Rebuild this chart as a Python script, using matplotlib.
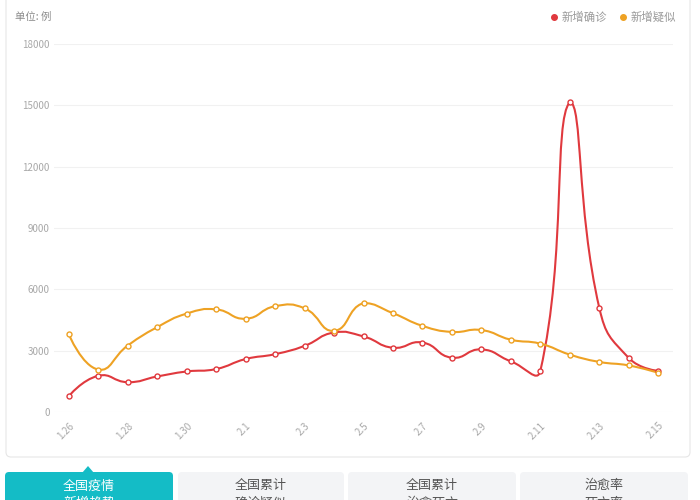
import numpy as np
import matplotlib
matplotlib.use('Agg')
import matplotlib.pyplot as plt
from matplotlib.path import Path
from matplotlib.patches import PathPatch, FancyBboxPatch, Polygon
from matplotlib.lines import Line2D
from matplotlib.transforms import Affine2D

plt.rcParams['font.family'] = ['Noto Sans CJK SC', 'DejaVu Sans']

# ---------------- data ----------------
dates = ['1.26', '1.27', '1.28', '1.29', '1.30', '1.31', '2.1', '2.2', '2.3', '2.4',
         '2.5', '2.6', '2.7', '2.8', '2.9', '2.10', '2.11', '2.12', '2.13', '2.14', '2.15']
confirmed = [769, 1771, 1459, 1737, 1982, 2102, 2590, 2829, 3235, 3887,
             3694, 3143, 3399, 2656, 3062, 2478, 2015, 15152, 5090, 2641, 2009]
suspected = [3806, 2077, 3248, 4148, 4812, 5019, 4562, 5173, 5072, 3971,
             5328, 4833, 4214, 3916, 4008, 3536, 3342, 2807, 2450, 2277, 1918]
series_names = ['新增确诊', '新增疑似']
y_ticks = [0, 3000, 6000, 9000, 12000, 15000, 18000]
unit_label = '单位: 例'
tab_titles = [('全国疫情', '新增趋势'), ('全国累计', '确诊疑似'),
              ('全国累计', '治愈死亡'), ('治愈率', '死亡率')]

RED = '#e0393e'
ORANGE = '#eea224'
TEAL = '#14bcc6'

W, H = 700, 500
fig = plt.figure(figsize=(7, 5), dpi=100)
fig.patch.set_facecolor('white')
# pixel transform, origin top-left
T = Affine2D().scale(1 / 100, -1 / 100).translate(0, 5) + fig.dpi_scale_trans

# card
card = FancyBboxPatch((6, -20), 684, 477, boxstyle='round,pad=0,rounding_size=5',
                      transform=T, fc='white', ec='#e6e6e6', lw=0.8, zorder=0)
fig.add_artist(card)

# axes
ax = fig.add_axes([54 / W, 1 - 412 / H, (673 - 54) / W, (412 - 44) / H])
ax.set_facecolor('none')
ax.set_xlim(-0.5, len(dates) - 0.5)
ax.set_ylim(y_ticks[0], y_ticks[-1])
for s in ax.spines.values():
    s.set_visible(False)
ax.set_yticks(y_ticks)
ax.set_yticklabels([str(v) for v in y_ticks], fontsize=7, color='#a8a8a8')
ax.yaxis.grid(True, color='#f1f1f1', lw=0.8)
ax.set_axisbelow(True)
xi = np.arange(len(dates))
ax.set_xticks(xi[::2])
ax.set_xticklabels(dates[::2], fontsize=7, color='#a8a8a8', rotation=45,
                   ha='right', va='top', rotation_mode='anchor')
ax.tick_params(axis='both', length=0)
ax.tick_params(axis='y', pad=3)
ax.tick_params(axis='x', pad=6)


def smooth_path(xs, ys, smooth=0.5):
    pts = ax.transData.transform(np.column_stack([xs, ys]).astype(float))
    mn = pts.min(axis=0)
    mx = pts.max(axis=0)
    n = len(pts)
    verts = [pts[0]]
    codes = [Path.MOVETO]
    cp0 = pts[0].copy()
    for i in range(1, n):
        p = pts[i]
        prev = pts[i - 1]
        if i == n - 1:
            cp1 = p.copy()
            v = np.zeros(2)
            ratio = 0.5
        else:
            nxt = pts[i + 1]
            v = nxt - prev
            d0 = np.hypot(*(p - prev))
            d1 = np.hypot(*(nxt - p))
            ratio = d1 / (d0 + d1)
            cp1 = p - v * smooth * (1 - ratio)
        cp0c = np.clip(cp0, mn, mx)
        cp1c = np.clip(cp1, mn, mx)
        verts += [cp0c, cp1c, p]
        codes += [Path.CURVE4] * 3
        cp0 = p + v * smooth * ratio
    verts = ax.transData.inverted().transform(np.array(verts))
    return Path(verts, codes)


for vals, col, z in [(confirmed, RED, 3), (suspected, ORANGE, 4)]:
    path = smooth_path(xi, vals)
    ax.add_patch(PathPatch(path, fill=False, ec=col, lw=1.5, zorder=z))
    ax.plot(xi, vals, 'o', ls='none', mfc='white', mec=col, ms=3.6, mew=1.0, zorder=z + 2)

# unit label
fig.text(15, 17, unit_label, transform=T, fontsize=7.5, color='#8c8c8c', ha='left', va='center')

# legend
for (lx, name, col) in [(554, series_names[0], RED), (623, series_names[1], ORANGE)]:
    fig.add_artist(Line2D([lx], [17], marker='o', ms=4, color=col, transform=T, ls='none'))
    fig.text(lx + 8, 17, name, transform=T, fontsize=8.2, color='#999999', ha='left', va='center')

# tabs
tabs_x = [(5, 173), (178, 344), (348, 516), (520, 688)]
for k, ((x0, x1), (t1, t2)) in enumerate(zip(tabs_x, tab_titles)):
    active = k == 0
    fc = TEAL if active else '#f3f4f6'
    tc = 'white' if active else '#555555'
    box = FancyBboxPatch((x0, 472), x1 - x0, 50, boxstyle='round,pad=0,rounding_size=4',
                         transform=T, fc=fc, ec='none', zorder=1)
    fig.add_artist(box)
    cx = (x0 + x1) / 2
    fig.text(cx, 486, t1, transform=T, fontsize=9.4, color=tc, ha='center', va='center')
    fig.text(cx, 503, t2, transform=T, fontsize=9.4, color=tc, ha='center', va='center')
    if active:
        fig.add_artist(Polygon([(82, 473), (94, 473), (88, 466)], closed=True,
                               transform=T, fc=TEAL, ec='none'))

fig.savefig('out.png', dpi=100)
